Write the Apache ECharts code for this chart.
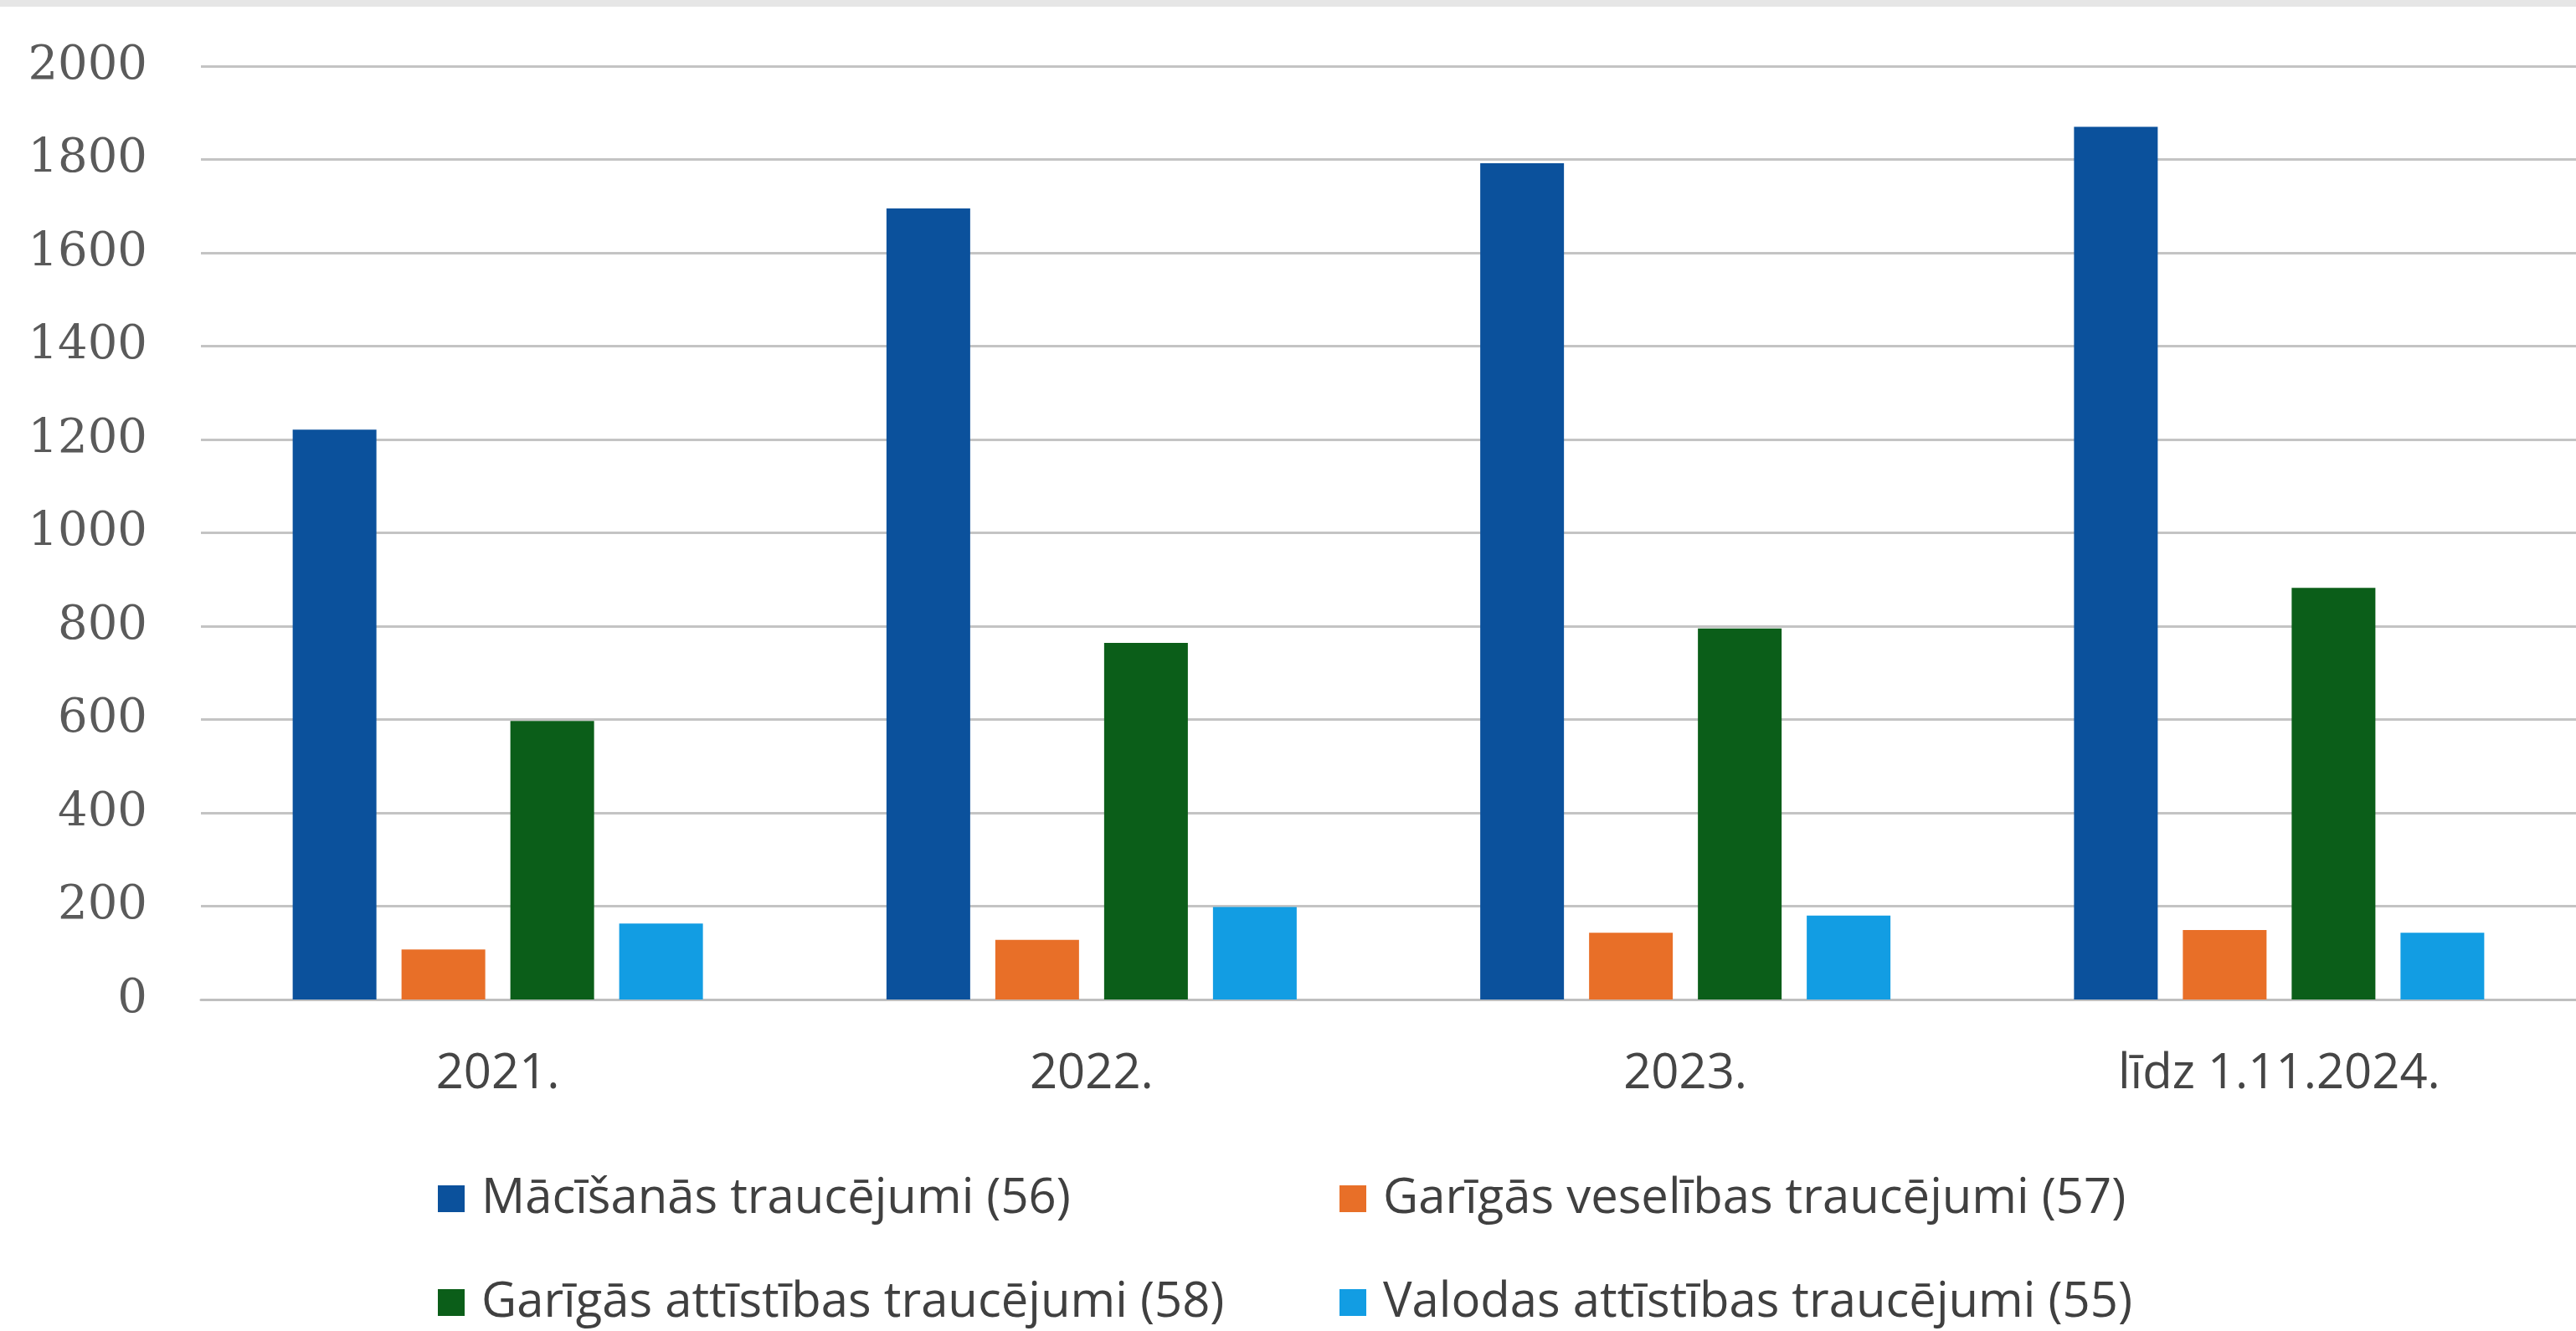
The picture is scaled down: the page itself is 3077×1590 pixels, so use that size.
<!DOCTYPE html>
<html>
<head>
<meta charset="utf-8">
<title>Traucējumi</title>
<script src="https://cdn.jsdelivr.net/npm/echarts@6/dist/echarts.min.js"></script>
<style>
  html, body { margin: 0; padding: 0; background: #fff; }
  #chart { width: 3077px; height: 1590px; }
</style>
</head>
<body>
<div id="chart"></div>
<script>
// dati
const categories = ["2021.", "2022.", "2023.", "līdz 1.11.2024."];
const seriesNames = [
  "Mācīšanās traucējumi (56)",
  "Garīgās veselības traucējumi (57)",
  "Garīgās attīstības traucējumi (58)",
  "Valodas attīstības traucējumi (55)"
];
const macisanas = [1221, 1695, 1792, 1870];
const garigasVeselibas = [107, 128, 143, 149];
const garigasAttistibas = [597, 764, 795, 882];
const valodas = [163, 198, 180, 143];
const yTicks = [0, 200, 400, 600, 800, 1000, 1200, 1400, 1600, 1800, 2000];

const colors = ["#0b519c", "#e86f28", "#0b5e19", "#129de3"];

const chart = echarts.init(document.getElementById("chart"));

const legendText = {
  color: "#404040",
  fontFamily: "Open Sans",
  fontSize: 58,
  lineHeight: 58,
  padding: [0, 0, 0, 15]
};

// two columns of the legend, same settings
function legendColumn(left, names) {
  return {
    orient: "vertical",
    left: left,
    top: 1403,
    height: 186,
    padding: 0,
    itemWidth: 32,
    itemHeight: 32,
    itemGap: 66,
    icon: "rect",
    textStyle: legendText,
    data: names
  };
}

chart.setOption({
  color: colors,
  animation: false,
  graphic: [
    {
      type: "rect",
      shape: { x: 0, y: 0, width: 3077, height: 8 },
      style: { fill: "#e6e6e6" }
    }
  ],
  grid: {
    left: 240,
    right: 0,
    top: 79,
    bottom: 396
  },
  legend: [
    legendColumn(523, [seriesNames[0], seriesNames[2]]),
    legendColumn(1600, [seriesNames[1], seriesNames[3]])
  ],
  xAxis: {
    type: "category",
    data: categories,
    axisTick: { show: false },
    axisLine: {
      lineStyle: { color: "#bfbfbf", width: 3 }
    },
    axisLabel: {
      color: "#454545",
      fontFamily: "Open Sans",
      fontSize: 58,
      margin: 60
    }
  },
  yAxis: {
    type: "value",
    min: yTicks[0],
    max: yTicks[yTicks.length - 1],
    interval: yTicks[1] - yTicks[0],
    axisLine: { show: false },
    axisTick: { show: false },
    axisLabel: {
      color: "#5a5a5a",
      fontFamily: "DejaVu Serif",
      fontSize: 56,
      margin: 64,
      formatter: (v) => String(v)
    },
    splitLine: {
      lineStyle: { color: "#c4c4c4", width: 3 }
    }
  },
  series: [
    { name: seriesNames[0], type: "bar", barWidth: 100, barGap: "30%", data: macisanas },
    { name: seriesNames[1], type: "bar", barWidth: 100, barGap: "30%", data: garigasVeselibas },
    { name: seriesNames[2], type: "bar", barWidth: 100, barGap: "30%", data: garigasAttistibas },
    { name: seriesNames[3], type: "bar", barWidth: 100, barGap: "30%", data: valodas }
  ]
});

window.addEventListener("resize", () => {
  chart.resize();
});
</script>
</body>
</html>
